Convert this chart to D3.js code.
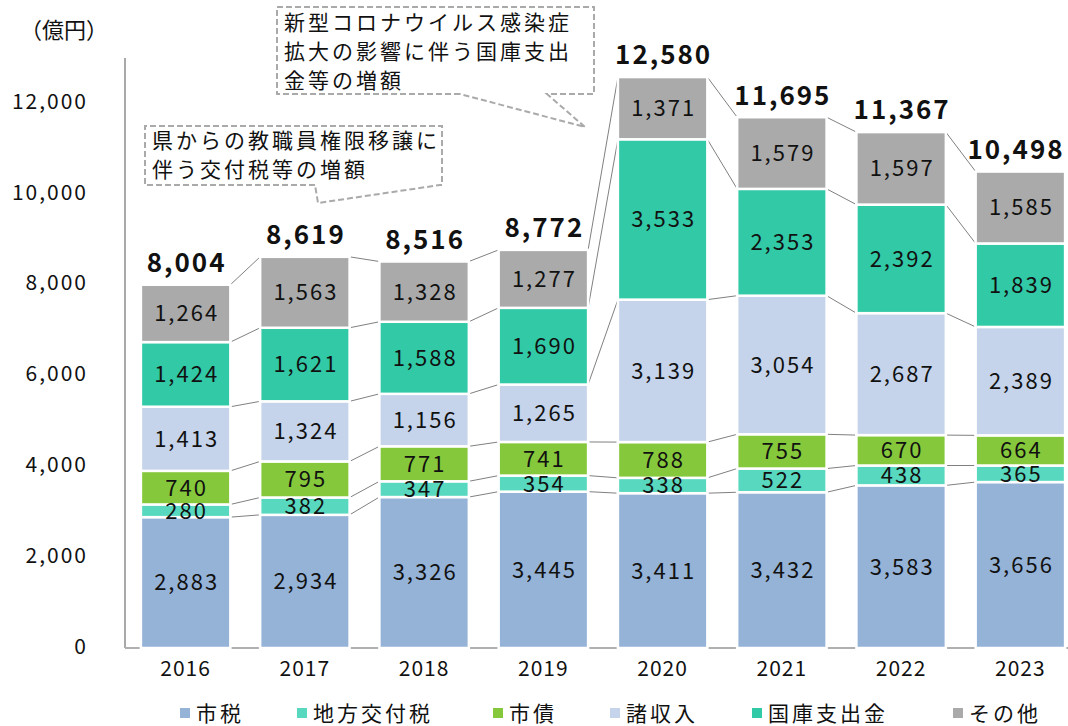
<!DOCTYPE html>
<html><head><meta charset="utf-8">
<script src="https://cdn.jsdelivr.net/npm/d3@7"></script>
<style>
body{margin:0;background:#fff;}
text{font-family:"Noto Sans CJK JP","Noto Sans",sans-serif;fill:#111;}
</style></head>
<body><svg id="c" width="1068" height="726"></svg>
<script>
const years = ["2016","2017","2018","2019","2020","2021","2022","2023"];
const seriesNames = ["市税","地方交付税","市債","諸収入","国庫支出金","その他"];
const shizei = [2883,2934,3326,3445,3411,3432,3583,3656];
const chihoKofuzei = [280,382,347,354,338,522,438,365];
const shisai = [740,795,771,741,788,755,670,664];
const shoshunyu = [1413,1324,1156,1265,3139,3054,2687,2389];
const kokkoShishutsu = [1424,1621,1588,1690,3533,2353,2392,1839];
const sonota = [1264,1563,1328,1277,1371,1579,1597,1585];
const totals = [8004,8619,8516,8772,12580,11695,11367,10498];
const yTicks = [0,2000,4000,6000,8000,10000,12000];
const colors = ["#95b3d7","#58d9bf","#86c83b","#c5d4ea","#31c9a6","#aaaaaa"];
const note1 = ["県からの教職員権限移譲に","伴う交付税等の増額"];
const note2 = ["新型コロナウイルス感染症","拡大の影響に伴う国庫支出","金等の増額"];

const seriesVals = [shizei,chihoKofuzei,shisai,shoshunyu,kokkoShishutsu,sonota];
const rows = years.map((yr,i)=>{const r={year:yr}; seriesNames.forEach((s,k)=>r[s]=seriesVals[k][i]); return r;});
const stack = d3.stack().keys(seriesNames)(rows);

const svg = d3.select("#c");
const fmt = d3.format(",");
const x = d3.scaleBand().domain(years).range([126,1080]).paddingInner(0.25).paddingOuter(0.125);
const y = d3.scaleLinear().domain([0,13000]).range([648,58]);
const bw = x.bandwidth();

// y axis labels
svg.append("g").selectAll("text").data(yTicks).join("text")
  .attr("x",88).attr("y",d=>y(d)-2).attr("dy","0.36em").attr("text-anchor","end")
  .style("font-size","21px").style("letter-spacing","2px").text(d=>fmt(d));
svg.append("text").attr("x",64).attr("y",30).attr("dy","0.36em").attr("text-anchor","middle")
  .style("font-size","22px").text("（億円）");

// axis lines
svg.append("line").attr("x1",125).attr("x2",125).attr("y1",58).attr("y2",y(0)).attr("stroke","#8c8c8c").attr("stroke-width",1.5);
svg.append("line").attr("x1",125).attr("x2",1068).attr("y1",y(0)).attr("y2",y(0)).attr("stroke","#b0b0b0").attr("stroke-width",2);

// connectors
const conn = svg.append("g");
stack.forEach(layer=>{
  for(let i=0;i<years.length-1;i++){
    conn.append("line")
      .attr("x1",x(years[i])+bw).attr("y1",y(layer[i][1]))
      .attr("x2",x(years[i+1])).attr("y2",y(layer[i+1][1]))
      .attr("stroke","#808080").attr("stroke-width",1);
  }
});

// bars
stack.forEach((layer,k)=>{
  svg.append("g").selectAll("rect").data(layer).join("rect")
    .attr("x",(d,i)=>x(years[i])).attr("width",bw)
    .attr("y",d=>y(d[1])).attr("height",d=>y(d[0])-y(d[1]))
    .attr("fill",colors[k]).attr("stroke","#fff").attr("stroke-width",2.5);
});
// segment labels
stack.forEach((layer,k)=>{
  svg.append("g").selectAll("text").data(layer).join("text")
    .attr("x",(d,i)=>x(years[i])+bw/2+1).attr("y",d=>(y(d[0])+y(d[1]))/2).attr("dy","0.36em")
    .attr("text-anchor","middle").style("font-size","22px").style("letter-spacing","2px")
    .text((d,i)=>fmt(seriesVals[k][i]));
});
// totals
svg.append("g").selectAll("text").data(totals).join("text")
  .attr("x",(d,i)=>Math.min(x(years[i])+bw/2+1, 1016)).attr("y",d=>y(d)-22).attr("dy","0.36em")
  .attr("text-anchor","middle").style("font-size","26px").style("font-weight","bold").style("letter-spacing","2px")
  .text(d=>fmt(d));
// x labels
svg.append("g").selectAll("text").data(years).join("text")
  .attr("x",d=>x(d)+bw/2).attr("y",668).attr("dy","0.36em").attr("text-anchor","middle")
  .style("font-size","21px").style("letter-spacing","1px").text(d=>d);

// legend
const legX = [180,297,493,610,752,953];
seriesNames.forEach((s,k)=>{
  svg.append("rect").attr("x",legX[k]).attr("y",708).attr("width",10).attr("height",10).attr("fill",colors[k]);
  svg.append("text").attr("x",legX[k]+16).attr("y",713).attr("dy","0.36em").style("font-size","21px").style("letter-spacing","3px").text(s);
});

// annotations
function box(x0,y0,x1,y1,gapA,gapB,tip,lines,ty,lh){
  const g = svg.append("g");
  g.append("path").attr("d",`M${gapA},${y1} L${x0},${y1} L${x0},${y0} L${x1},${y0} L${x1},${y1} L${gapB},${y1} L${tip[0]},${tip[1]} Z`)
    .attr("fill","#fff").attr("stroke","#aaaaaa").attr("stroke-width",2).attr("stroke-dasharray","6,3");
  lines.forEach((t,i)=>g.append("text").attr("x",x0+7).attr("y",ty+i*lh).attr("dy","0.36em")
    .style("font-size","21px").style("letter-spacing","3px").text(t));
}
box(145,126,442,185,315,440,[318,203],note1,140,29);
box(277,7,594,94,460,547,[585,127],note2,22,29);
</script></body></html>
